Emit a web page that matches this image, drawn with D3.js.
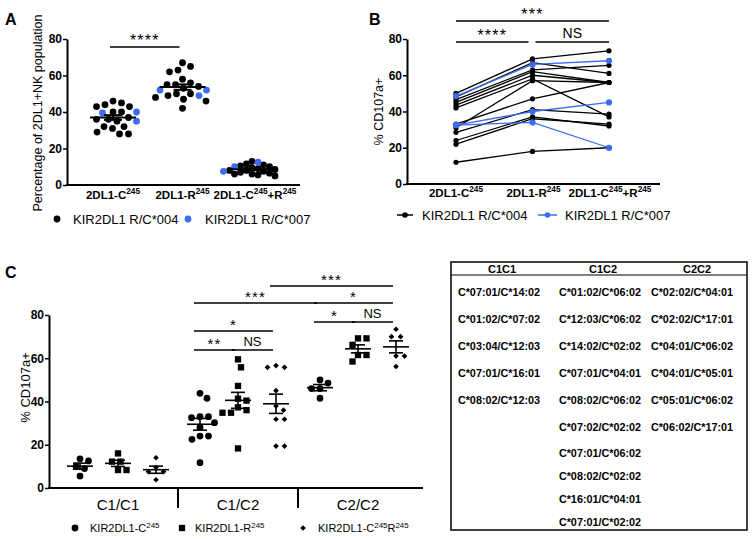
<!DOCTYPE html>
<html>
<head>
<meta charset="utf-8">
<script src="https://cdn.jsdelivr.net/npm/d3@7"></script>
<style>
body{margin:0;background:#fff;}
text{font-family:"Liberation Sans",Arial,sans-serif;fill:#000;}
</style>
</head>
<body>
<script>
/* data */
var yTicks = [0,20,40,60,80];

// panel A : % of 2DL1+ NK cells, one dot per donor
var catsA = ['2DL1-C{245}','2DL1-R{245}','2DL1-C{245}+R{245}'];
var a004 = [
	[46,45,44,43,43,40,40,37,36,36,35,32,32,31,29,28,28],
	[67,65,63,62,58,56,55,55,54,53,50,50,49,48,47,46,42],
	[13,11.5,11,10.5,10,9.5,9,8.5,8,8,7.5,7,6.5,6,6,5.5,5]
];
var a007 = [
	[40,39.5,35],
	[52,52,49],
	[12.5,10,7.5]
];
var legendAB = ['KIR2DL1 R/C*004','KIR2DL1 R/C*007'];

// panel B : paired donors, C245 / R245 / C245+R245
var b004 = [
	[50,69,73.5],[48,67,61],[46.5,63,65.5],[45,62,56],[43.5,60,56],[42,58,37],
	[33,47,56],[31,57,56],[28.5,41,38.5],[24,37,32],[22,36,33],[12,18,20]
];
var b007 = [
	[48.5,66,68],[32.5,40,45],[32.5,34,20]
];

// panel C : % CD107a+ by HLA-C group
var groupsC = ['C1/C1','C1/C2','C2/C2'];
var seriesC = ['KIR2DL1-C{245}','KIR2DL1-R{245}','KIR2DL1-C{245}R{245}'];
var cC245 = [
	[12.5,13.5,10,9,5.5],
	[43.8,41.5,33,33,32.5,30.2,28,24,24,22.5,11.7],
	[50,48.5,46,46,41.5]
];
var cR245 = [
	[16,12.2,12.2,8.3,8.3],
	[59.5,55.8,47.2,41.3,40.4,37.3,36,34.8,34.8,18.3],
	[69.2,69.2,66.2,61.5,61.5,58.5]
];
var cCR245 = [
	[14,9.5,7.5,7.5,3.8],
	[56.6,55.8,55.8,45,37.9,36,31.8,31.8,19.4,19.4],
	[73.4,70,70,61,61,56.2]
];

// significance labels
var sigA = [{a:0,b:1,v:75.6,t:'****'}];
var sigB = [{a:0,b:2,v:90,t:'***'},{a:0,b:1,v:78.3,t:'****'},{a:1,b:2,v:78.3,t:'NS'}];
var sigC = [
	{a:[1,2],b:[2,2],v:93.4,t:'***'},
	{a:[1,0],b:[2,0],v:85.5,t:'***'},
	{a:[2,0],b:[2,2],v:85.5,t:'*'},
	{a:[1,0],b:[1,2],v:72.6,t:'*'},
	{a:[2,0],b:[2,1],v:76.8,t:'*'},
	{a:[2,1],b:[2,2],v:76.8,t:'NS'},
	{a:[1,0],b:[1,1],v:63.8,t:'**'},
	{a:[1,1],b:[1,2],v:63.8,t:'NS'}
];

// HLA-C genotype table
var tableHead = ['C1C1','C1C2','C2C2'];
var tC1C1 = ['C*07:01/C*14:02','C*01:02/C*07:02','C*03:04/C*12:03','C*07:01/C*16:01','C*08:02/C*12:03'];
var tC1C2 = ['C*01:02/C*06:02','C*12:03/C*06:02','C*14:02/C*02:02','C*07:01/C*04:01','C*08:02/C*06:02',
	'C*07:02/C*02:02','C*07:01/C*06:02','C*08:02/C*02:02','C*16:01/C*04:01','C*07:01/C*02:02'];
var tC2C2 = ['C*02:02/C*04:01','C*02:02/C*17:01','C*04:01/C*06:02','C*04:01/C*05:01','C*05:01/C*06:02','C*06:02/C*17:01'];

var blue = '#3b6cf2';

var svg = d3.select('body').append('svg')
	.attr('width',752)
	.attr('height',539);

// text with {superscript} parts
function rich(t, str, size) {
	var parts = str.split(/(\{[^}]*\})/).filter(function(s){return s.length;});
	var up = false;
	parts.forEach(function(p){
		if (p.charAt(0)=='{') {
			t.append('tspan').attr('font-size',size*0.72).attr('dy',up?0:-size*0.4).text(p.slice(1,-1));
			up = true;
		} else {
			t.append('tspan').attr('dy',up?size*0.4:0).text(p);
			up = false;
		}
	});
	return t;
}

// simple beeswarm, sets x offsets
function swarm(pts, y, d) {
	var placed = [];
	pts.slice().sort(function(p,q){return q.v-p.v;}).forEach(function(p){
		var yy = y(p.v);
		for (var k=0;k<400;k++){
			var off = (k%2?1:-1)*Math.ceil(k/2)*0.5;
			var ok = placed.every(function(q){
				return (off-q.dx)*(off-q.dx)+(yy-q.yy)*(yy-q.yy) >= d*d;
			});
			if (ok) {p.dx = off; p.yy = yy; placed.push(p); break;}
		}
	});
	return pts;
}

function sem(vals) {
	var m = d3.mean(vals), s = d3.deviation(vals);
	return {m:m, e:s/Math.sqrt(vals.length)};
}

function yAxis(g, y, x, size) {
	var ax = g.append('g')
		.attr('transform','translate('+x+',0)')
		.call(d3.axisLeft(y).tickValues(yTicks).tickSize(4).tickSizeOuter(0).tickPadding(1));
	ax.select('.domain').attr('stroke-width',2);
	ax.selectAll('.tick line').attr('stroke-width',1.5);
	ax.selectAll('.tick text').attr('font-size',size).attr('font-weight','bold')
		.attr('font-family','"Liberation Sans",Arial,sans-serif').attr('fill','#000');
	return ax;
}

function sigLine(g, x1, x2, yy, label, big) {
	g.append('line').attr('x1',x1).attr('x2',x2).attr('y1',yy).attr('y2',yy)
		.attr('stroke','#000').attr('stroke-width',1.5);
	var star = label.indexOf('*') >= 0;
	g.append('text').attr('x',(x1+x2)/2)
		.attr('y', star ? yy-1 : yy-4)
		.attr('text-anchor','middle')
		.attr('font-size', star ? big+2 : big)
		.attr('letter-spacing', star ? 1.2 : 0)
		.text(label);
}

function meanBar(g, cx, y, vals, wide, cap, sw) {
	var s = sem(vals);
	g.append('line').attr('x1',cx-wide).attr('x2',cx+wide).attr('y1',y(s.m)).attr('y2',y(s.m))
		.attr('stroke','#000').attr('stroke-width',sw);
	g.append('line').attr('x1',cx).attr('x2',cx).attr('y1',y(s.m-s.e)).attr('y2',y(s.m+s.e))
		.attr('stroke','#000').attr('stroke-width',sw);
	[s.m-s.e, s.m+s.e].forEach(function(v){
		g.append('line').attr('x1',cx-cap).attr('x2',cx+cap).attr('y1',y(v)).attr('y2',y(v))
			.attr('stroke','#000').attr('stroke-width',sw);
	});
}

function panelLabel(t, x, y) {
	svg.append('text').attr('x',x).attr('y',y).attr('font-size',16).attr('font-weight','bold').text(t);
}

/* ---------- panel A ---------- */
var gA = svg.append('g');
var yA = d3.scaleLinear().domain([0,80]).range([185,39]);
var xA = d3.scalePoint().domain(d3.range(3)).range([113,252]);
var labelShiftA = [0,0,3];
var swarmD = [8.5,8.5,6];

panelLabel('A',5,25);
yAxis(gA, yA, 67, 12);
gA.append('line').attr('x1',66).attr('x2',300).attr('y1',yA(0)).attr('y2',yA(0))
	.attr('stroke','#000').attr('stroke-width',2);

catsA.forEach(function(c,i){
	rich(gA.append('text').attr('x',xA(i)+labelShiftA[i]).attr('y',199).attr('text-anchor','middle')
		.attr('font-size',11.5).attr('font-weight','bold'), c, 11.5);
});

gA.append('text')
	.attr('transform','translate(42,'+((yA(0)+yA(80))/2+1)+') rotate(-90)')
	.attr('text-anchor','middle').attr('font-size',12.5)
	.text('Percentage of 2DL1+NK population');

catsA.forEach(function(c,i){
	var pts = a004[i].map(function(v){return {v:v,c:'#000'};})
		.concat(a007[i].map(function(v){return {v:v,c:blue};}));
	swarm(pts, yA, swarmD[i]);
	pts.sort(function(p,q){return (p.c==blue)-(q.c==blue);});
	gA.selectAll('.dA'+i).data(pts).enter().append('circle')
		.attr('class','dA'+i)
		.attr('cx',function(d){return xA(i)+d.dx;})
		.attr('cy',function(d){return yA(d.v);})
		.attr('r',3.4)
		.style('fill',function(d){return d.c;});
	meanBar(gA, xA(i), yA, a004[i].concat(a007[i]), 23, 9, 2);
});

sigA.forEach(function(s){
	sigLine(gA, xA(s.a)-3, xA(s.b)-3, yA(s.v), s.t, 14);
});

// legend A
[['#000',57,73],[blue,188,205]].forEach(function(l,i){
	gA.append('circle').attr('cx',l[1]).attr('cy',219).attr('r',3.4).style('fill',l[0]);
	gA.append('text').attr('x',l[2]).attr('y',224).attr('font-size',13).text(legendAB[i]);
});

/* ---------- panel B ---------- */
var gB = svg.append('g');
var yB = d3.scaleLinear().domain([0,80]).range([184,39]);
var xB = d3.scalePoint().domain(d3.range(3)).range([456,609]);
var labelShiftB = [0,1,1];

panelLabel('B',369,25);
yAxis(gB, yB, 407, 12);
gB.append('line').attr('x1',406).attr('x2',660).attr('y1',yB(0)).attr('y2',yB(0))
	.attr('stroke','#000').attr('stroke-width',2);

catsA.forEach(function(c,i){
	rich(gB.append('text').attr('x',xB(i)+labelShiftB[i]).attr('y',197).attr('text-anchor','middle')
		.attr('font-size',11.5).attr('font-weight','bold'), c, 11.5);
});

gB.append('text')
	.attr('transform','translate(383,'+((yB(0)+yB(80))/2)+') rotate(-90)')
	.attr('text-anchor','middle').attr('font-size',12.5)
	.text('% CD107a+');

var lineB = d3.line()
	.x(function(d,i){return xB(i);})
	.y(function(d){return yB(d);});

[[b004,'#000',2.6],[b007,blue,3.1]].forEach(function(set){
	set[0].forEach(function(row){
		gB.append('path').attr('d',lineB(row)).attr('fill','none')
			.attr('stroke',set[1]).attr('stroke-width',1.3);
		gB.selectAll(null).data(row).enter().append('circle')
			.attr('cx',function(d,i){return xB(i);})
			.attr('cy',function(d){return yB(d);})
			.attr('r',set[2])
			.style('fill',set[1]);
	});
});

sigB.forEach(function(s){
	var x1 = s.a==1 ? xB(1)+3 : xB(s.a);
	var x2 = s.b==1 ? xB(1)-4 : xB(s.b);
	sigLine(gB, x1, x2, yB(s.v), s.t, 14);
});

// legend B
[['#000',397,413,422],[blue,538,557,565]].forEach(function(l,i){
	gB.append('line').attr('x1',l[1]).attr('x2',l[2]).attr('y1',215).attr('y2',215)
		.attr('stroke',l[0]).attr('stroke-width',1.5);
	gB.append('circle').attr('cx',(l[1]+l[2])/2).attr('cy',215).attr('r',2.8).style('fill',l[0]);
	gB.append('text').attr('x',l[3]).attr('y',220).attr('font-size',13).text(legendAB[i]);
});

/* ---------- panel C ---------- */
var gC = svg.append('g');
var yC = d3.scaleLinear().domain([0,80]).range([488,315]);
var xC = d3.scaleBand().domain(groupsC).range([58,418]).padding(0);
var xSub = d3.scalePoint().domain(d3.range(3)).range([-38,38]);
var shapes = [d3.symbolCircle, d3.symbolSquare, d3.symbolSquare];
var sizes = [36, 40, 16];
var rot = [0, 0, 45];
var seriesVals = [cC245, cR245, cCR245];
function posC(gi, si) { return xC(groupsC[gi]) + xC.bandwidth()/2 + xSub(si); }

panelLabel('C',5,278);
yAxis(gC, yC, 49, 12);
gC.append('line').attr('x1',48).attr('x2',423).attr('y1',yC(0)).attr('y2',yC(0))
	.attr('stroke','#000').attr('stroke-width',2);
groupsC.slice(1).forEach(function(g){
	gC.append('line').attr('x1',xC(g)).attr('x2',xC(g)).attr('y1',yC(0)).attr('y2',yC(0)+20)
		.attr('stroke','#000').attr('stroke-width',2);
});
groupsC.forEach(function(g){
	gC.append('text').attr('x',xC(g)+xC.bandwidth()/2).attr('y',510)
		.attr('text-anchor','middle').attr('font-size',15).text(g);
});

gC.append('text')
	.attr('transform','translate(30,'+((yC(0)+yC(80))/2-14)+') rotate(-90)')
	.attr('text-anchor','middle').attr('font-size',13)
	.text('% CD107a+');

groupsC.forEach(function(g,gi){
	seriesVals.forEach(function(ser,si){
		var pts = swarm(ser[gi].map(function(v){return {v:v};}), yC, 8.5);
		var cx = posC(gi,si);
		gC.selectAll(null).data(pts).enter().append('path')
			.attr('d',d3.symbol().type(shapes[si]).size(sizes[si]))
			.attr('transform',function(d){return 'translate('+(cx+d.dx)+','+yC(d.v)+') rotate('+rot[si]+')';})
			.style('fill','#000');
		meanBar(gC, cx, yC, ser[gi], 13, 7, 1.6);
	});
});

sigC.forEach(function(s){
	sigLine(gC, posC(s.a[0],s.a[1])-6, posC(s.b[0],s.b[1])-3, yC(s.v), s.t, 13);
});

// legend C
[[75,90],[182,195],[303,318]].forEach(function(l,i){
	gC.append('path').attr('d',d3.symbol().type(shapes[i]).size(sizes[i]))
		.attr('transform','translate('+l[0]+',528) rotate('+rot[i]+')').style('fill','#000');
	rich(gC.append('text').attr('x',l[1]).attr('y',532).attr('font-size',11), seriesC[i], 11);
});

/* ---------- table ---------- */
var gT = svg.append('g');
gT.append('rect').attr('x',451).attr('y',262).attr('width',296).attr('height',268)
	.attr('fill','none').attr('stroke','#000').attr('stroke-width',1.5);
gT.append('line').attr('x1',451).attr('x2',747).attr('y1',275).attr('y2',275)
	.attr('stroke','#000').attr('stroke-width',1);

var headX = [502,603,697];
var colX = [499,600,692];
tableHead.forEach(function(h,i){
	gT.append('text').attr('x',headX[i]).attr('y',273).attr('text-anchor','middle')
		.attr('font-size',11).attr('font-weight','bold').text(h);
});
function rowY(i) { return i < 6 ? 292 + i*27 : 453 + (i-6)*23; }
[tC1C1,tC1C2,tC2C2].forEach(function(col,ci){
	gT.selectAll(null).data(col).enter().append('text')
		.attr('x',colX[ci])
		.attr('y',function(d,i){return rowY(i)+4;})
		.attr('text-anchor','middle')
		.attr('font-size',10.8).attr('font-weight','bold')
		.text(function(d){return d;});
});
</script>
</body>
</html>
